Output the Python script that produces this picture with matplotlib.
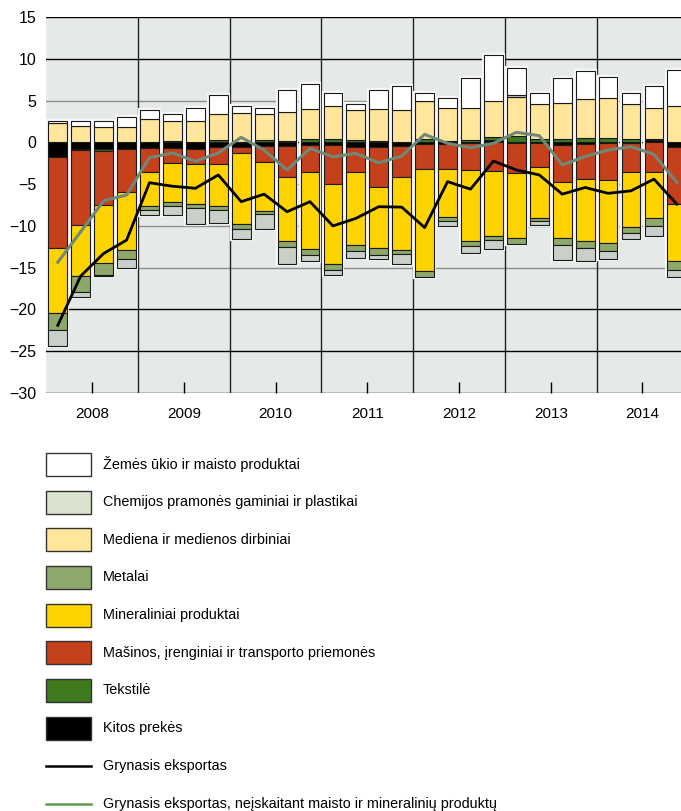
import numpy as np
import matplotlib
matplotlib.use('Agg')
import matplotlib.pyplot as plt
from matplotlib.patches import Rectangle

plt.rcParams['font.family'] = ['Liberation Sans', 'DejaVu Sans']

# quarterly data, 2008 Q1 .. 2014 Q4
years = [2008, 2009, 2010, 2011, 2012, 2013, 2014]
quarters = [f'{y} Q{q}' for y in years for q in range(1, 5)]

kitos = [-1.7, -0.85, -0.75, -0.85, -0.64, -0.7, -0.8, -0.6, -0.5, -0.45, -0.4, -0.3, -0.3, -0.5,
         -0.6, -0.4, -0.15, -0.15, -0.1, 0.3, -0.1, -0.1, -0.3, -0.15, -0.1, -0.1, 0.3, -0.5]
tekstile = [-0.1, -0.05, -0.33, 0.0, 0.0, 0.2, 0.0, 0.3, 0.05, 0.3, 0.2, 0.45, 0.35, 0.3,
            0.12, 0.1, 0.45, 0.15, 0.3, 0.4, 0.75, 0.45, 0.45, 0.55, 0.5, 0.35, 0.15, 0.1]
masinos = [-10.9, -9.05, -6.4, -5.15, -2.85, -1.75, -1.75, -2.05, -0.8, -1.9, -3.7, -3.3, -4.7, -3.1,
           -4.7, -3.7, -3.05, -3.05, -3.2, -3.4, -3.55, -2.8, -4.4, -4.25, -4.4, -3.5, -3.6, -6.9]
mineraliniai = [-7.7, -6.0, -7.0, -6.9, -4.07, -4.7, -4.8, -4.95, -8.5, -5.9, -7.65, -9.2, -9.6, -8.7,
                -7.4, -8.8, -12.2, -5.7, -8.5, -7.8, -7.75, -6.1, -6.7, -7.4, -7.5, -6.5, -5.4, -6.8]
mediena = [2.27, 1.95, 1.8, 1.8, 2.75, 2.35, 2.6, 3.05, 3.5, 3.15, 3.4, 3.6, 4.0, 3.55,
           3.9, 3.75, 4.5, 4.0, 3.85, 4.25, 4.7, 4.2, 4.3, 4.6, 4.75, 4.25, 3.7, 4.3]
metalai = [-2.1, -2.0, -1.45, -1.05, -0.55, -0.5, -0.55, -0.5, -0.6, -0.35, -0.75, -0.65, -0.7, -0.7,
           -0.8, -0.5, -0.7, -0.5, -0.6, -0.5, -0.8, -0.4, -0.9, -0.9, -0.95, -0.7, -1.0, -1.1]
chemijos = [-1.9, -0.6, -0.05, -1.05, -0.6, -1.05, -1.9, -1.5, -1.15, -1.8, -2.0, -0.75, -0.6, -0.9,
            -0.5, -1.2, 0.0, -0.6, -0.9, -1.1, 0.2, -0.5, -1.8, -1.5, -1.05, -0.8, -1.2, -0.8]
zemes_ukio = [0.27, 0.6, 0.7, 1.27, 1.1, 0.8, 1.55, 2.3, 0.85, 0.7, 2.65, 2.9, 1.5, 0.8,
              2.3, 2.9, 1.0, 1.2, 3.5, 5.55, 3.25, 1.3, 3.0, 3.45, 2.6, 1.25, 2.6, 4.3]

grynasis = [-21.9, -16.0, -13.3, -11.7, -4.83, -5.25, -5.5, -3.9, -7.1, -6.2, -8.3, -7.1, -10.0, -9.1,
            -7.7, -7.75, -10.2, -4.7, -5.6, -2.24, -3.3, -3.9, -6.2, -5.4, -6.1, -5.8, -4.4, -7.4]
grynasis_be = [-14.35, -10.7, -7.0, -6.3, -1.83, -1.27, -2.27, -1.27, 0.6, -0.92, -3.3, -0.72, -1.72, -1.32,
               -2.44, -1.64, 0.96, -0.12, -0.64, -0.12, 1.2, 0.8, -2.7, -1.7, -0.92, -0.52, -1.44, -4.8]

# stacking order from zero outwards
series = [
    ('Kitos prekės', kitos, '#000000'),
    ('Tekstilė', tekstile, '#3f7a1e'),
    ('Mašinos, įrenginiai ir transporto priemonės', masinos, '#c4411c'),
    ('Mineraliniai produktai', mineraliniai, '#ffd300'),
    ('Mediena ir medienos dirbiniai', mediena, '#ffe69a'),
    ('Metalai', metalai, '#8ea86c'),
    ('Chemijos pramonės gaminiai ir plastikai', chemijos, '#c8d0c8'),
    ('Žemės ūkio ir maisto produktai', zemes_ukio, '#ffffff'),
]
legend_order = ['Žemės ūkio ir maisto produktai', 'Chemijos pramonės gaminiai ir plastikai',
                'Mediena ir medienos dirbiniai', 'Metalai', 'Mineraliniai produktai',
                'Mašinos, įrenginiai ir transporto priemonės', 'Tekstilė', 'Kitos prekės']
legend_colors = {'Chemijos pramonės gaminiai ir plastikai': '#d9e3d0'}
line_labels = ['Grynasis eksportas',
               'Grynasis eksportas, neįskaitant maisto ir mineralinių produktų']
line_colors = ['#000000', '#5f9a4f']

x = years[0] + 0.125 + 0.25 * np.arange(len(quarters))
width = 0.205

W, H = 681, 811
fig = plt.figure(figsize=(W / 100, H / 100), dpi=100)
ax = fig.add_axes([0.068, 0.5154, 0.932, 0.4636])
ax.set_facecolor('#e5eae8')

# horizontal grid
for v in range(-30, 16, 5):
    c = '#8a8f8c' if v in (5, -5, -10, -15) else '#000000'
    ax.axhline(v, color=c, lw=1.0, zorder=1)
for yr in years[1:]:
    ax.axvline(yr, color='#222222', lw=1.0, zorder=1)

pos_base = np.zeros(len(x))
neg_base = np.zeros(len(x))
for name, vals, col in series:
    vals = np.array(vals)
    pos_base += np.where(vals > 0, vals, 0)
    neg_base += np.where(vals < 0, vals, 0)
# light halo behind each whole bar
ax.bar(x, pos_base - neg_base, width, bottom=neg_base, color='none',
       edgecolor='#f7f8f7', lw=3.0, zorder=2)

pos_base = np.zeros(len(x))
neg_base = np.zeros(len(x))
for name, vals, col in series:
    vals = np.array(vals)
    bottom = np.where(vals >= 0, pos_base, neg_base)
    ax.bar(x, vals, width, bottom=bottom, color=col, edgecolor='#1a1a1a', lw=0.8, zorder=3)
    pos_base += np.where(vals > 0, vals, 0)
    neg_base += np.where(vals < 0, vals, 0)

ax.plot(x, grynasis_be, color='#6f8878', lw=2.2, zorder=4)
ax.plot(x, grynasis, color='#000000', lw=2.0, zorder=5)

ax.set_ylim(-30, 15)
ax.set_xlim(years[0], years[-1] + 0.92)
ax.set_yticks(range(-30, 16, 5))
ax.set_xticks([y + 0.5 for y in years])
ax.set_xticklabels([str(y) for y in years])
ax.tick_params(axis='y', length=0, pad=7, labelsize=11.5)
ax.tick_params(axis='x', direction='in', length=8, width=1, pad=10, labelsize=11)
for s in ax.spines.values():
    s.set_visible(False)

# legend, laid out in pixel coordinates
lg = fig.add_axes([0, 0, 1, 1])
lg.set_xlim(0, W)
lg.set_ylim(H, 0)
lg.axis('off')
colors = dict((n, c) for n, v, c in series)
row0, pitch = 464.3, 37.7
for i, name in enumerate(legend_order):
    yc = row0 + i * pitch
    lg.add_patch(Rectangle((46, yc - 11.5), 44.5, 23, facecolor=legend_colors.get(name, colors[name]),
                           edgecolor='#333333', lw=1.0))
    lg.text(103, yc, name, va='center', ha='left', fontsize=10.4)
for j, (name, col) in enumerate(zip(line_labels, line_colors)):
    yc = row0 + (len(legend_order) + j) * pitch
    lg.plot([46, 90.5], [yc, yc], color=col, lw=1.8)
    lg.text(103, yc, name, va='center', ha='left', fontsize=10.4)

fig.savefig('out.png', dpi=100)
